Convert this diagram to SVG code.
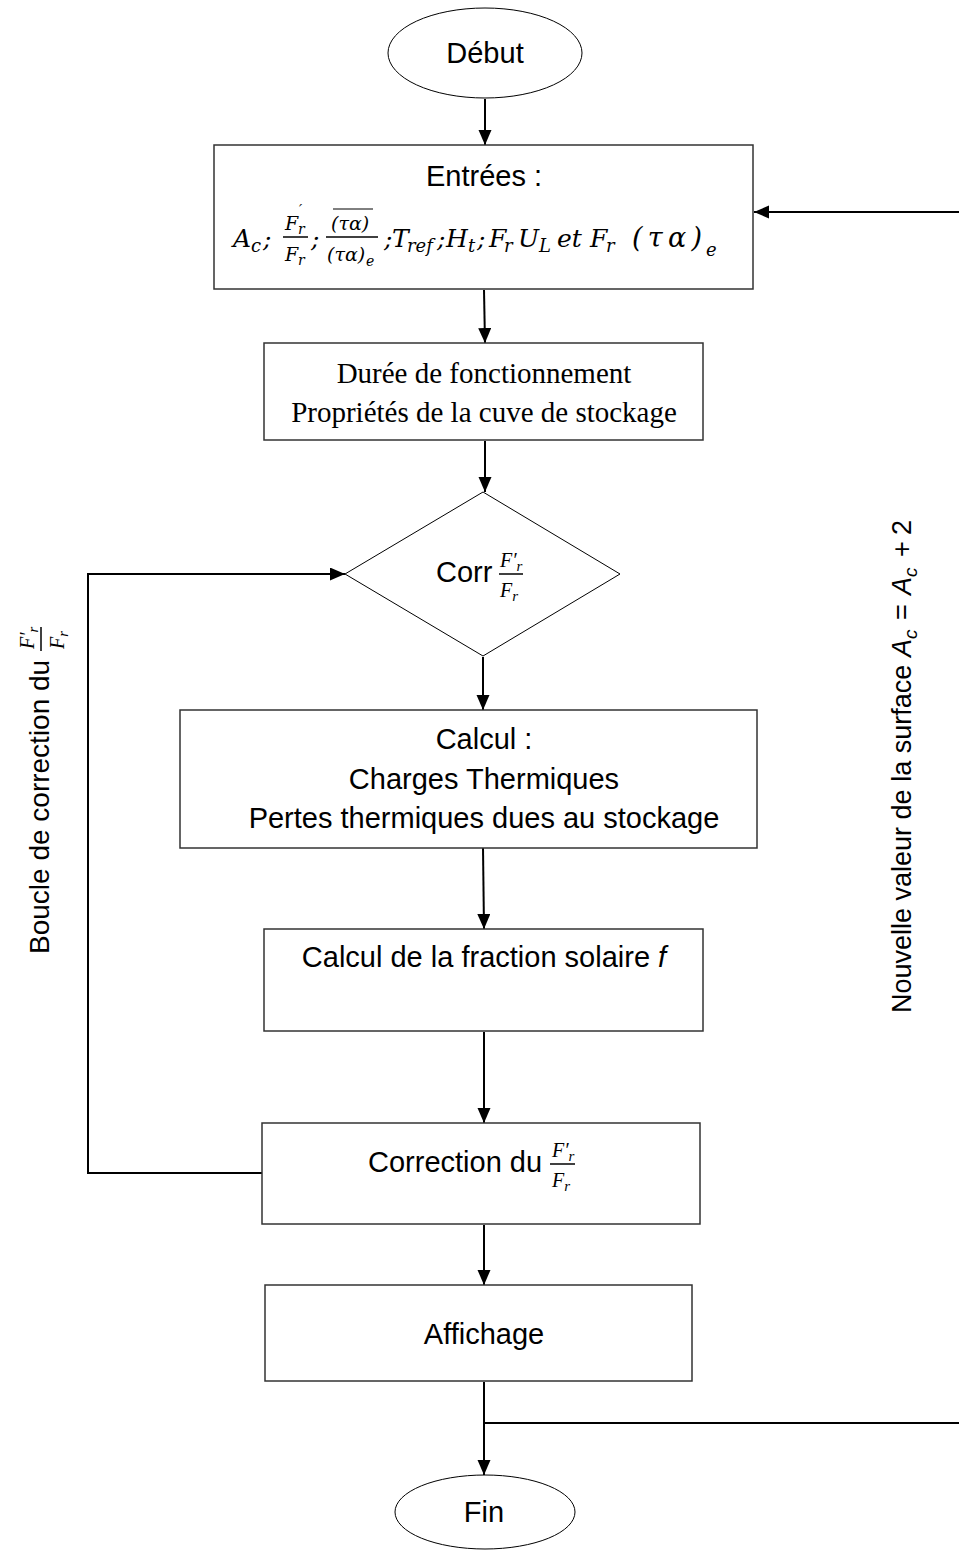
<svg xmlns="http://www.w3.org/2000/svg" width="959" height="1551" viewBox="0 0 959 1551">
<style>
.box{fill:#fff;stroke:#333;stroke-width:1.5}
.term{fill:#fff;stroke:#000;stroke-width:1}
.conn{fill:none;stroke:#000;stroke-width:2}
.s{font-family:"Liberation Sans",Arial,sans-serif;font-size:29px;fill:#000}
.lbl{font-family:"Liberation Sans",Arial,sans-serif;fill:#000}
.t{font-family:"Liberation Serif","Times New Roman",serif;font-size:29px;fill:#000}
.m{font-family:"Liberation Serif","DejaVu Serif",serif;font-style:italic;fill:#000}
.d{font-family:"DejaVu Serif","Liberation Serif",serif;font-style:italic;fill:#000}
.bar{stroke:#000;stroke-width:1.5}
</style>
<defs>
<marker id="ah" markerUnits="userSpaceOnUse" markerWidth="16" markerHeight="14" refX="15" refY="6.5" orient="auto"><path d="M0,0 L15,6.5 L0,13 z" fill="#000"/></marker>
</defs>

<g id="connectors">
<path class="conn" d="M485,99 L485,145" marker-end="url(#ah)"/>
<path class="conn" d="M484,290 L485,343" marker-end="url(#ah)"/>
<path class="conn" d="M485,441 L485,492" marker-end="url(#ah)"/>
<path class="conn" d="M483,657 L483,710" marker-end="url(#ah)"/>
<path class="conn" d="M483,848 L484,929" marker-end="url(#ah)"/>
<path class="conn" d="M484,1032 L484,1123" marker-end="url(#ah)"/>
<path class="conn" d="M484,1225 L484,1285" marker-end="url(#ah)"/>
<path class="conn" d="M484,1382 L484,1475" marker-end="url(#ah)"/>
<path class="conn" d="M262,1173 L88,1173 L88,574 L345,574" marker-end="url(#ah)"/>
<path class="conn" d="M959,212 L754,212" marker-end="url(#ah)"/>
<path class="conn" d="M485,1423 L959,1423"/>
</g>

<g id="debut">
<ellipse class="term" cx="485" cy="53" rx="97" ry="45"/>
<text class="s" x="485" y="63" text-anchor="middle">Début</text>
</g>

<g id="entrees">
<rect class="box" x="214" y="145" width="539" height="144"/>
<text class="s" x="484" y="186" text-anchor="middle">Entrées :</text>
<text class="d" x="233" y="247" font-size="25">A</text>
<text class="d" x="251" y="252" font-size="18">c</text>
<text class="d" x="263" y="247" font-size="25">;</text>
<text class="d" x="285" y="230" font-size="19">F</text>
<text class="d" x="299" y="215" font-size="14">′</text>
<text class="d" x="298" y="234" font-size="14">r</text>
<line class="bar" x1="283" y1="237" x2="308" y2="237"/>
<text class="d" x="285" y="261" font-size="19">F</text>
<text class="d" x="298" y="265" font-size="14">r</text>
<text class="d" x="311" y="247" font-size="25">;</text>
<line x1="333" y1="209" x2="373" y2="209" stroke="#000" stroke-width="1"/>
<text class="d" x="331" y="230" font-size="19">(τα)</text>
<line class="bar" x1="326" y1="237" x2="378" y2="237"/>
<text class="d" x="327" y="261" font-size="19">(τα)</text>
<text class="d" x="366" y="266" font-size="14">e</text>
<text class="d" x="384" y="247" font-size="25">;</text>
<text class="d" x="392" y="247" font-size="25">T</text>
<text class="d" x="407" y="252" font-size="18">ref</text>
<text class="d" x="437" y="247" font-size="25">;</text>
<text class="d" x="446" y="247" font-size="25">H</text>
<text class="d" x="468" y="252" font-size="18">t</text>
<text class="d" x="477" y="247" font-size="25">;</text>
<text class="d" x="489" y="247" font-size="25">F</text>
<text class="d" x="504" y="252" font-size="18">r</text>
<text class="d" x="518" y="247" font-size="25">U</text>
<text class="d" x="539" y="252" font-size="18">L</text>
<text class="d" x="557" y="247" font-size="25">et</text>
<text class="d" x="590" y="247" font-size="25">F</text>
<text class="d" x="606" y="252" font-size="18">r</text>
<text class="d" x="632" y="247" font-size="27" textLength="70" lengthAdjust="spacing">(τα)</text>
<text class="d" x="706" y="256" font-size="18">e</text>
</g>

<g id="duree">
<rect class="box" x="264" y="343" width="439" height="97"/>
<text class="t" x="484" y="383" text-anchor="middle">Durée de fonctionnement</text>
<text class="t" x="484" y="422" text-anchor="middle">Propriétés de la cuve de stockage</text>
</g>

<g id="corr">
<polygon class="term" points="483,492 620,574 483,656 345,574"/>
<text class="s" x="436" y="582">Corr</text>
<text class="m" x="500" y="567" font-size="20">F′<tspan font-size="15" dy="4">r</tspan></text>
<line class="bar" x1="499" y1="574" x2="523" y2="574"/>
<text class="m" x="500" y="597" font-size="20">F<tspan font-size="15" dy="4">r</tspan></text>
</g>

<g id="calcul">
<rect class="box" x="180" y="710" width="577" height="138"/>
<text class="s" x="484" y="749" text-anchor="middle">Calcul :</text>
<text class="s" x="484" y="789" text-anchor="middle">Charges Thermiques</text>
<text class="s" x="484" y="828" text-anchor="middle">Pertes thermiques dues au stockage</text>
</g>

<g id="fraction">
<rect class="box" x="264" y="929" width="439" height="102"/>
<text class="s" x="484" y="967" text-anchor="middle">Calcul de la fraction solaire <tspan font-style="italic">f</tspan></text>
</g>

<g id="correction">
<rect class="box" x="262" y="1123" width="438" height="101"/>
<text class="s" x="368" y="1172">Correction du</text>
<text class="m" x="552" y="1157" font-size="20">F′<tspan font-size="15" dy="4">r</tspan></text>
<line class="bar" x1="550" y1="1164" x2="575" y2="1164"/>
<text class="m" x="552" y="1187" font-size="20">F<tspan font-size="15" dy="4">r</tspan></text>
</g>

<g id="affichage">
<rect class="box" x="265" y="1285" width="427" height="96"/>
<text class="s" x="484" y="1344" text-anchor="middle">Affichage</text>
</g>

<g id="fin">
<ellipse class="term" cx="485" cy="1512" rx="90" ry="37"/>
<text class="s" x="484" y="1522" text-anchor="middle">Fin</text>
</g>

<g id="label-left" transform="translate(49,777) rotate(-90)">
<text class="lbl" x="-177" y="0" font-size="28">Boucle de correction du</text>
<text class="m" x="128" y="-15" font-size="20">F′<tspan font-size="15" dy="4">r</tspan></text>
<line class="bar" x1="126" y1="-8" x2="150" y2="-8"/>
<text class="m" x="128" y="15" font-size="20">F<tspan font-size="15" dy="4">r</tspan></text>
</g>

<g id="label-right" transform="translate(911,755) rotate(-90)">
<text class="lbl" x="-258" y="0" font-size="27">Nouvelle valeur de la surface</text>
<text class="lbl" x="98" y="0" font-size="27" font-style="italic">A</text>
<text class="lbl" x="116" y="6" font-size="19" font-style="italic">c</text>
<text class="lbl" x="135" y="0" font-size="27">=</text>
<text class="lbl" x="160" y="0" font-size="27" font-style="italic">A</text>
<text class="lbl" x="178" y="6" font-size="19" font-style="italic">c</text>
<text class="lbl" x="198" y="0" font-size="27">+</text>
<text class="lbl" x="220" y="0" font-size="27">2</text>
</g>
</svg>
